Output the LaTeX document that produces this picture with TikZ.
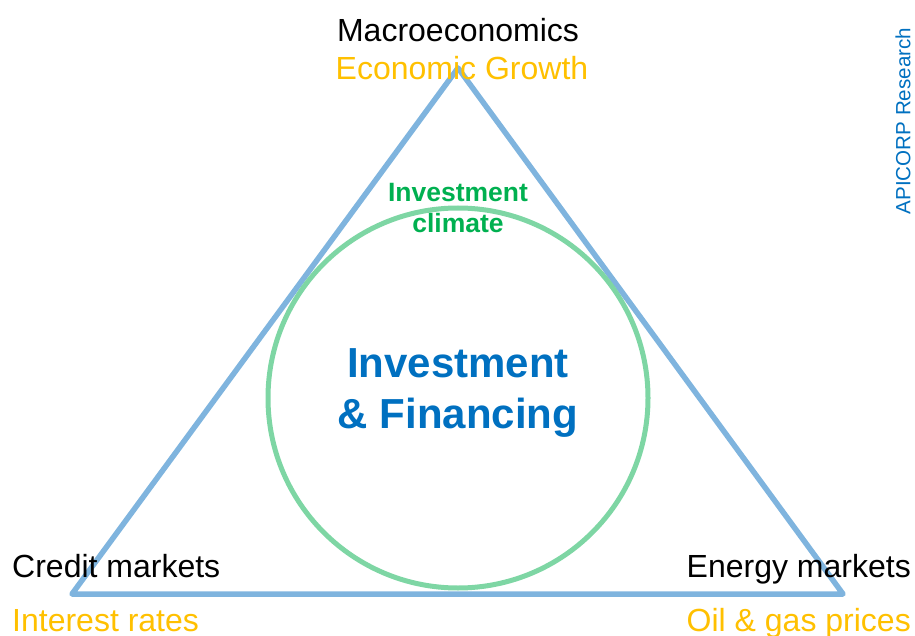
\documentclass[tikz,border=0pt]{standalone}
\usepackage{fontspec}
\setmainfont{Liberation Sans}
\definecolor{triblue}{RGB}{127,180,222}
\definecolor{circgreen}{RGB}{126,214,164}
\definecolor{txtblue}{RGB}{0,112,192}
\definecolor{txtgreen}{RGB}{0,176,80}
\definecolor{txtorange}{RGB}{255,192,0}
\begin{document}
\begin{tikzpicture}[x=1pt,y=-1pt,
	topic/.style={inner sep=0pt,font=\fontsize{32}{38}\selectfont},
	driver/.style={topic,text=txtorange}]
	\useasboundingbox (0,0) rectangle (915,636);
	\coordinate (apex) at (458,68);
	\coordinate (left) at (72,594);
	\coordinate (right) at (843,594);
	\draw[triblue,line width=5.5pt,line join=round] (apex)--(left)--(right)--cycle;
	\node[circle,draw=circgreen,line width=5pt,minimum size=380pt,inner sep=0pt] (climate) at (458,398) {};
	% corner labels
	\node[topic,anchor=base] (macro) at (458,42) {Macroeconomics};
	\node[driver,anchor=base] (growth) at (462,80) {Economic Growth};
	\node[topic,anchor=base west] (credit) at (12,577) {Credit markets};
	\node[driver,anchor=base west] (rates) at (12,631) {Interest rates};
	\node[topic,anchor=base east] (energy) at (911,577) {Energy markets};
	\node[driver,anchor=base east] (prices) at (911,631) {Oil \& gas prices};
	% inside the circle
	\node[inner sep=0pt,anchor=base,align=center,text=txtgreen,
		font=\bfseries\fontsize{26.5}{31}\selectfont] (climatelbl) at (458,233) {Investment\\climate};
	\node[inner sep=0pt,anchor=base,align=center,text=txtblue,
		font=\bfseries\fontsize{42}{51}\selectfont] (core) at (458,428) {Investment\\\& Financing};
	\node[inner sep=0pt,rotate=90,text=txtblue,
		font=\fontsize{20.6}{24}\selectfont] (source) at (903,121) {APICORP Research};
\end{tikzpicture}
\end{document}
